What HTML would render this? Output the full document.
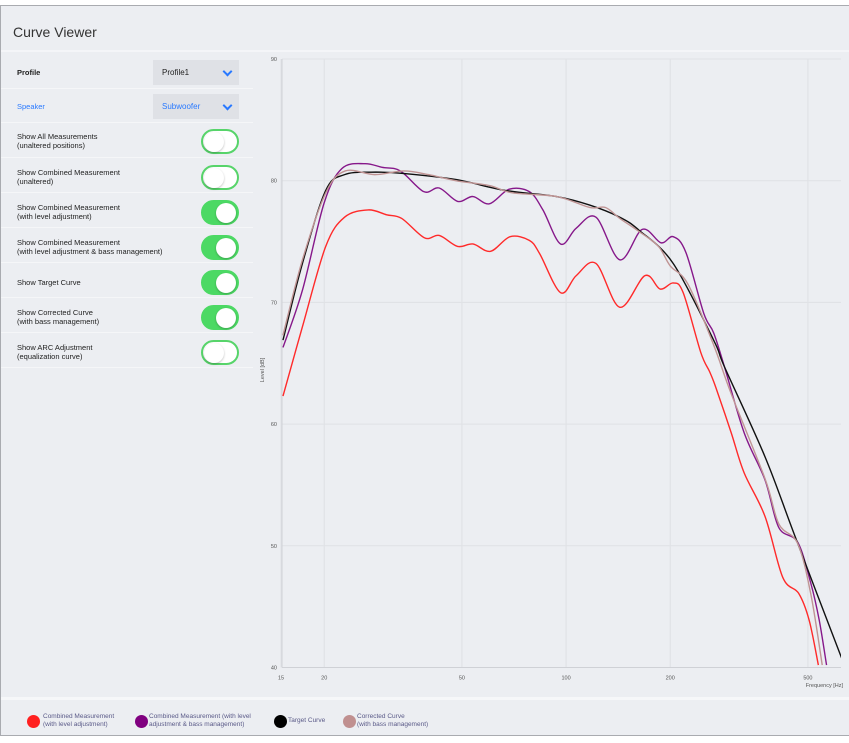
<!DOCTYPE html>
<html><head><meta charset="utf-8">
<style>
*{box-sizing:border-box;margin:0;padding:0}
body{width:849px;height:743px;background:#fff;font-family:"Liberation Sans",sans-serif;position:relative;overflow:hidden}
#win{position:absolute;left:0;top:5px;width:849px;height:731px;background:#eceef2;border:1px solid #a9abb0;border-right:none}
.title{position:absolute;left:12px;top:18px;font-size:14px;color:#333}
.hsep{position:absolute;left:0;top:44px;width:848px;height:2px;background:#f4f5f8}
.row{position:absolute;left:0;width:252px;border-bottom:1px solid #f5f6f8;font-size:7.5px;color:#222;line-height:9px}
.row .lbl{position:absolute;left:16px}
.dd{position:absolute;left:152px;width:86px;height:25px;background:#dfe1e6;font-size:8px;padding:8px 0 0 9px}
.dd .chev{position:absolute;right:8px;top:8px;width:7px;height:7px;border-right:2.5px solid #2979ff;border-bottom:2.5px solid #2979ff;transform:rotate(45deg) scale(1,1)}
.tg{position:absolute;left:200px;width:38px;height:25px;border-radius:13px;border:2px solid #57d46a;background:#fff}
.tg.on{background:#4cd964;border-color:#4cd964}
.tg .k{position:absolute;top:1px;width:20px;height:20px;border-radius:50%;background:#fff;box-shadow:0 1px 2px rgba(0,0,0,.25)}
.tg.off .k{left:1px}.tg.on .k{right:1px}
.lsep{position:absolute;left:0;top:691px;width:848px;height:3px;background:#f6f7f9}
.leg{position:absolute;top:707px;font-size:6.5px;color:#5a5a88;line-height:8px}
.leg .dot{position:absolute;left:-14px;top:2px;width:13px;height:13px;border-radius:50%}
</style></head><body>
<div id="win">
<div class="title">Curve Viewer</div>
<div class="hsep"></div>

<div class="row" style="top:50px;height:33px">
 <div class="lbl" style="top:12px;font-weight:bold">Profile</div>
 <div class="dd" style="top:4px">Profile1<span class="chev"></span></div>
</div>
<div class="row" style="top:83px;height:34px">
 <div class="lbl" style="top:13px;color:#2979ff">Speaker</div>
 <div class="dd" style="top:5px;color:#2979ff">Subwoofer<span class="chev"></span></div>
</div>

<div class="row" style="top:117px;height:35px">
 <div class="lbl" style="top:9px">Show All Measurements<br>(unaltered positions)</div>
 <div class="tg off" style="top:6px"><div class="k"></div></div>
</div>
<div class="row" style="top:152px;height:35px">
 <div class="lbl" style="top:10px">Show Combined Measurement<br>(unaltered)</div>
 <div class="tg off" style="top:7px"><div class="k"></div></div>
</div>
<div class="row" style="top:187px;height:35px">
 <div class="lbl" style="top:10px">Show Combined Measurement<br>(with level adjustment)</div>
 <div class="tg on" style="top:7px"><div class="k"></div></div>
</div>
<div class="row" style="top:222px;height:35px">
 <div class="lbl" style="top:10px">Show Combined Measurement<br>(with level adjustment &amp; bass management)</div>
 <div class="tg on" style="top:7px"><div class="k"></div></div>
</div>
<div class="row" style="top:257px;height:35px">
 <div class="lbl" style="top:15px">Show Target Curve</div>
 <div class="tg on" style="top:7px"><div class="k"></div></div>
</div>
<div class="row" style="top:292px;height:35px">
 <div class="lbl" style="top:10px">Show Corrected Curve<br>(with bass management)</div>
 <div class="tg on" style="top:7px"><div class="k"></div></div>
</div>
<div class="row" style="top:327px;height:35px">
 <div class="lbl" style="top:10px">Show ARC Adjustment<br>(equalization curve)</div>
 <div class="tg off" style="top:7px"><div class="k"></div></div>
</div>

<div class="lsep"></div>
<div class="leg" style="left:42px"><span class="dot" style="background:#ff2020;left:-16px"></span>Combined Measurement<br>(with level adjustment)</div>
<div class="leg" style="left:148px"><span class="dot" style="background:#800080"></span>Combined Measurement (with level<br>adjustment &amp; bass management)</div>
<div class="leg" style="left:287px;top:711px"><span class="dot" style="background:#000;top:-2px"></span>Target Curve</div>
<div class="leg" style="left:356px"><span class="dot" style="background:#c09090"></span>Corrected Curve<br>(with bass management)</div>
</div>

<svg id="chart" width="849" height="743" style="position:absolute;left:0;top:0"></svg>
<script>
const xTicks=[15,20,50,100,200,500];
const xTickLabels=["15","20","50","100","200","500"];
const yTicks=[40,50,60,70,80,90];
const yTickLabels=["40","50","60","70","80","90"];
const redF=[15.2,17.3,20.2,22.9,26.8,30.3,33.5,39,43,48.6,53.8,60.5,68.9,78.3,83.9,96.4,107,122,143,169,187,204,218,245,260,271,300,327,376,423,470,504,536];
const redDb=[62.3,68.0,74.6,77.0,77.6,77.2,76.9,75.3,75.5,74.6,74.8,74.2,75.4,75.1,74.0,70.8,72.2,73.2,69.6,72.2,71.1,71.6,70.8,65.9,64.3,63.0,59.3,56.0,52.4,47.4,46.1,43.9,40.2];
const purpleF=[15.2,17.3,20,22.5,26.2,29.4,33.2,38.8,43,48.6,53.8,60,68.5,78.3,85.7,96.4,107,122,143,166,188,204,222,250,267,287,327,376,412,467,510,539,566];
const purpleDb=[66.3,71.0,78.2,81.0,81.4,81.1,80.8,79.1,79.4,78.3,78.7,78.1,79.3,79.1,77.6,74.8,76.1,77.0,73.5,76.0,74.9,75.4,74.1,69.1,67.5,64.7,59.3,55.4,51.5,50.3,46.9,43.9,40.2];
const targetF=[15.2,17.3,20.2,22.9,27.3,33.8,47.9,66.7,93.8,117,143,163,204,267,287,376,460,637];
const targetDb=[66.9,73.2,79.2,80.5,80.7,80.6,80.1,79.2,78.7,78.0,77.0,75.9,73.2,66.9,64.7,57.3,50.7,40.2];
const corrF=[15.2,17.3,20.2,23,28,34,40,48,60,70,94,117,130,143,163,185,200,225,267,300,376,412,467,510,550];
const corrDb=[67.3,73.5,79.0,80.8,80.5,80.8,80.5,80.0,79.6,79.0,78.7,77.8,77.8,76.9,75.8,74.6,73.0,71.5,66.5,62.5,55.5,51.8,50.2,46.0,40.2];

const X0=281,PXD=346,F0=15;
const xs=f=>X0+Math.log10(f/F0)*PXD;
const ys=v=>180.7-(v-80)*12.17;
const NS="http://www.w3.org/2000/svg";
const svg=document.getElementById('chart');
function mk(t,a){const e=document.createElementNS(NS,t);for(const k in a)e.setAttribute(k,a[k]);return e;}
const defs=mk('defs',{});const cp=mk('clipPath',{id:'plotclip'});
cp.appendChild(mk('rect',{x:281,y:55,width:560,height:613}));defs.appendChild(cp);svg.appendChild(defs);
const L=282,R=841,B=ys(40);
xTicks.forEach((f,i)=>{
 const g=mk('line',{x1:xs(f),x2:xs(f),y1:ys(90),y2:B,stroke:'#dfe1e5','stroke-width':1});
 
 
 svg.appendChild(g);
 const t=mk('text',{x:xs(f),y:B+12,'font-size':5.5,'text-anchor':'middle',fill:'#555','font-family':'Liberation Sans'});
 t.textContent=xTickLabels[i];
 
 
 svg.appendChild(t);
});
yTicks.forEach((v,i)=>{
 const g=mk('line',{x1:L,x2:R,y1:ys(v),y2:ys(v),stroke:'#dfe1e5','stroke-width':1});
 
 
 svg.appendChild(g);
 const t=mk('text',{x:277,y:ys(v)+2,'font-size':5.5,'text-anchor':'end',fill:'#555','font-family':'Liberation Sans'});
 t.textContent=yTickLabels[i];
 
 
 svg.appendChild(t);
});
const ax=mk('line',{x1:L,x2:L,y1:ys(90),y2:B,stroke:'#cfd1d6'});


svg.appendChild(ax);
const bx=mk('line',{x1:L,x2:R,y1:B,y2:B,stroke:'#cfd1d6'});


svg.appendChild(bx);
const yt=mk('text',{x:0,y:0,'font-size':5.5,fill:'#555','text-anchor':'middle','font-family':'Liberation Sans',transform:'translate(264,370) rotate(-90)'});
yt.textContent='Level [dB]';


svg.appendChild(yt);
const xt=mk('text',{x:843,y:687,'font-size':5.5,fill:'#555','text-anchor':'end','font-family':'Liberation Sans'});
xt.textContent='Frequency [Hz]';


svg.appendChild(xt);

function smooth(F,V){
 const p=F.map((f,i)=>[xs(f),ys(V[i])]);
 let d='M'+p[0][0]+','+p[0][1];
 for(let i=0;i<p.length-1;i++){
  const p0=p[Math.max(0,i-1)],p1=p[i],p2=p[i+1],p3=p[Math.min(p.length-1,i+2)];
  const c1=[p1[0]+(p2[0]-p0[0])/6,p1[1]+(p2[1]-p0[1])/6];
  const c2=[p2[0]-(p3[0]-p1[0])/6,p2[1]-(p3[1]-p1[1])/6];
  d+=` C${c1[0]},${c1[1]} ${c2[0]},${c2[1]} ${p2[0]},${p2[1]}`;
 }
 return d;
}
function series(F,V,col,w,name){
 const e=mk('path',{d:smooth(F,V),fill:'none',stroke:col,'stroke-width':w,'clip-path':'url(#plotclip)'});
 
 
 svg.appendChild(e);
}
series(redF,redDb,'#ff2a2a',1.4,'series-level-adjusted');
series(purpleF,purpleDb,'#86188a',1.4,'series-bass-managed');
series(targetF,targetDb,'#111',1.4,'series-target-curve');
series(corrF,corrDb,'#c09494',1.4,'series-corrected-curve');
</script>
</body></html>
